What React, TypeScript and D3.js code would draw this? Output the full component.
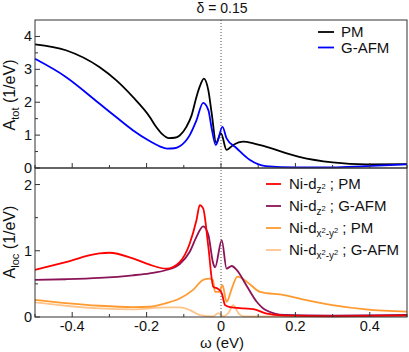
import React, { useEffect, useRef } from 'react';
import * as d3 from 'd3';

// top panel: total spectral function
const totPmW = [-0.5, -0.417, -0.327, -0.282, -0.237, -0.192, -0.175, -0.158, -0.14, -0.125, -0.111, -0.093, -0.079, -0.066, -0.057, -0.046, -0.034, -0.025, -0.013, 0.0, 0.015, 0.033, 0.06, 0.087, 0.12, 0.21, 0.3, 0.39, 0.5];
const totPmA = [3.76, 3.58, 3.07, 2.67, 2.16, 1.56, 1.26, 1.03, 0.91, 0.92, 0.99, 1.25, 1.6, 2.16, 2.48, 2.72, 2.36, 1.66, 0.77, 1.05, 0.55, 0.7, 0.8, 0.75, 0.65, 0.34, 0.17, 0.11, 0.12];
const totAfmW = [-0.5, -0.417, -0.327, -0.282, -0.237, -0.192, -0.165, -0.145, -0.125, -0.111, -0.084, -0.066, -0.048, -0.034, -0.025, -0.014, 0.004, 0.015, 0.042, 0.078, 0.12, 0.2, 0.3, 0.39, 0.5];
const totAfmA = [3.32, 2.77, 1.96, 1.55, 1.15, 0.82, 0.66, 0.59, 0.6, 0.66, 1.0, 1.45, 1.98, 1.76, 1.2, 0.7, 1.25, 0.9, 0.6, 0.24, 0.06, 0.02, 0.02, 0.06, 0.11];

// bottom panel: local orbital spectral functions
const dz2PmW = [-0.5, -0.417, -0.327, -0.3, -0.237, -0.192, -0.147, -0.111, -0.084, -0.066, -0.057, -0.048, -0.034, -0.021, -0.007, 0.002, 0.011, 0.024, 0.06, 0.087, 0.12, 0.17, 0.3, 0.5];
const dz2PmA = [0.71, 0.83, 0.96, 0.97, 0.885, 0.79, 0.73, 0.83, 1.11, 1.46, 1.69, 1.64, 1.06, 0.46, 0.42, 0.36, 0.18, 0.15, 0.13, 0.12, 0.055, 0.02, 0.01, 0.02];
const dz2AfmW = [-0.5, -0.417, -0.327, -0.237, -0.192, -0.147, -0.111, -0.084, -0.066, -0.048, -0.034, -0.021, -0.016, 0.002, 0.015, 0.029, 0.042, 0.07, 0.096, 0.12, 0.17, 0.3, 0.5];
const dz2AfmA = [0.56, 0.57, 0.59, 0.63, 0.66, 0.71, 0.8, 0.985, 1.21, 1.37, 1.24, 0.81, 0.75, 1.16, 0.73, 0.77, 0.71, 0.46, 0.23, 0.105, 0.03, 0.02, 0.03];
const dx2PmW = [-0.5, -0.417, -0.327, -0.237, -0.192, -0.147, -0.111, -0.075, -0.048, -0.03, -0.022, -0.016, -0.005, 0.004, 0.015, 0.029, 0.044, 0.07, 0.105, 0.17, 0.21, 0.3, 0.39, 0.5];
const dx2PmA = [0.26, 0.21, 0.17, 0.15, 0.155, 0.21, 0.28, 0.41, 0.56, 0.58, 0.56, 0.38, 0.38, 0.48, 0.23, 0.43, 0.61, 0.53, 0.38, 0.33, 0.28, 0.18, 0.115, 0.08];
const dx2AfmW = [-0.5, -0.417, -0.327, -0.237, -0.147, -0.111, -0.084, -0.057, -0.021, -0.007, 0.005, 0.02, 0.033, 0.047, 0.06, 0.2, 0.5];
const dx2AfmA = [0.22, 0.17, 0.13, 0.115, 0.145, 0.145, 0.105, 0.03, 0.01, 0.06, 0.01, 0.06, 0.18, 0.055, 0.01, 0.01, 0.02];

const xMajor = [-0.4, -0.2, 0, 0.2, 0.4];
const xMinor = [-0.5, -0.3, -0.1, 0.1, 0.3, 0.5];
const topMajor = [0, 1, 2, 3, 4];
const topMinor = [0.5, 1.5, 2.5, 3.5];
const botMajor = [0, 1, 2];
const botMinor = [0.5, 1.5];

const FONT = '"Liberation Sans", Arial, Helvetica, sans-serif';

const App = () => {
  const svgRef = useRef<SVGSVGElement>(null);

  useEffect(() => {
    document.body.style.margin = '0';
    const svg = d3.select(svgRef.current);
    svg.selectAll('*').remove();

    const left = 35, right = 407, top = 20, mid = 168, bottom = 317;

    const x = d3.scaleLinear().domain([-0.5, 0.5]).range([left, right]);
    const yTop = d3.scaleLinear().domain([0, 4.5]).range([mid, top]);
    const yBot = d3.scaleLinear().domain([0, 2.25]).range([bottom, mid]);

    const drawLine = (ws: number[], as: number[], y: d3.ScaleLinear<number, number>, color: string) => {
      const pts = ws.map((w, i) => [w, as[i]] as [number, number]);
      const line = d3.line<[number, number]>()
        .x(d => x(d[0]))
        .y(d => y(d[1]))
        .curve(d3.curveMonotoneX);
      svg.append('path')
        .datum(pts)
        .attr('fill', 'none')
        .attr('stroke', color)
        .attr('stroke-width', 1.8)
        .attr('stroke-linejoin', 'round')
        .attr('d', line);
    };

    // Fermi level
    svg.append('line')
      .attr('x1', x(0)).attr('x2', x(0))
      .attr('y1', top).attr('y2', bottom)
      .attr('stroke', '#555')
      .attr('stroke-width', 1)
      .attr('stroke-dasharray', '1,2');

    drawLine(totPmW, totPmA, yTop, '#000000');
    drawLine(totAfmW, totAfmA, yTop, '#0000ff');
    drawLine(dx2AfmW, dx2AfmA, yBot, '#ffc48a');
    drawLine(dx2PmW, dx2PmA, yBot, '#ff9a30');
    drawLine(dz2AfmW, dz2AfmA, yBot, '#8b1458');
    drawLine(dz2PmW, dz2PmA, yBot, '#ff0000');

    // frames
    const frame = svg.append('g').attr('fill', 'none').attr('stroke', '#333').attr('stroke-width', 1);
    frame.append('rect').attr('x', left).attr('y', top).attr('width', right - left).attr('height', mid - top);
    frame.append('rect').attr('x', left).attr('y', mid).attr('width', right - left).attr('height', bottom - mid);

    // ticks
    const ticks = svg.append('g').attr('stroke', '#333').attr('stroke-width', 1);
    [mid, bottom].forEach(yb => {
      xMajor.forEach(t => ticks.append('line').attr('x1', x(t)).attr('x2', x(t)).attr('y1', yb).attr('y2', yb - 5));
      xMinor.forEach(t => ticks.append('line').attr('x1', x(t)).attr('x2', x(t)).attr('y1', yb).attr('y2', yb - 3));
    });
    topMajor.forEach(t => ticks.append('line').attr('x1', left).attr('x2', left + 5).attr('y1', yTop(t)).attr('y2', yTop(t)));
    topMinor.forEach(t => ticks.append('line').attr('x1', left).attr('x2', left + 3).attr('y1', yTop(t)).attr('y2', yTop(t)));
    botMajor.forEach(t => ticks.append('line').attr('x1', left).attr('x2', left + 5).attr('y1', yBot(t)).attr('y2', yBot(t)));
    botMinor.forEach(t => ticks.append('line').attr('x1', left).attr('x2', left + 3).attr('y1', yBot(t)).attr('y2', yBot(t)));

    const txt = svg.append('g').style('font-family', FONT).attr('fill', '#111');

    xMajor.forEach(t => txt.append('text')
      .attr('x', x(t)).attr('y', 331)
      .attr('text-anchor', 'middle')
      .style('font-size', '14.5px')
      .text(t === 0 ? '0' : d3.format('.1f')(t).replace('−', '-')));
    topMajor.forEach(t => txt.append('text')
      .attr('x', 32).attr('y', yTop(t) + 5)
      .attr('text-anchor', 'end')
      .style('font-size', '14.5px')
      .text(String(t)));
    botMajor.forEach(t => txt.append('text')
      .attr('x', 32).attr('y', yBot(t) + 5)
      .attr('text-anchor', 'end')
      .style('font-size', '14.5px')
      .text(String(t)));

    // title and axis labels
    txt.append('text').attr('x', 222).attr('y', 13).attr('text-anchor', 'middle')
      .style('font-size', '14px').text('δ = 0.15');
    txt.append('text').attr('x', 222).attr('y', 348).attr('text-anchor', 'middle')
      .style('font-size', '15px').text('ω (eV)');

    const yLabel = (cy: number, sub: string) => {
      const t = txt.append('text')
        .attr('transform', `translate(15,${cy}) rotate(-90)`)
        .attr('text-anchor', 'middle')
        .style('font-size', '16px');
      t.append('tspan').text('A');
      t.append('tspan').attr('dy', 4).style('font-size', '11px').text(sub);
      t.append('tspan').attr('dy', -4).text(' (1/eV)');
    };
    yLabel(95, 'tot');
    yLabel(242, 'loc');

    // top legend
    const topLegend = [
      { label: 'PM', color: '#000000' },
      { label: 'G-AFM', color: '#0000ff' },
    ];
    topLegend.forEach((d, i) => {
      const ly = 32 + i * 15.5;
      svg.append('line').attr('x1', 318).attr('x2', 334).attr('y1', ly).attr('y2', ly)
        .attr('stroke', d.color).attr('stroke-width', 1.8);
      txt.append('text').attr('x', 341).attr('y', ly + 5).style('font-size', '15px').text(d.label);
    });

    // bottom legend
    const botLegend = [
      { orb: 'z', mag: 'PM', color: '#ff0000' },
      { orb: 'z', mag: 'G-AFM', color: '#8b1458' },
      { orb: 'x', mag: 'PM', color: '#ff9a30' },
      { orb: 'x', mag: 'G-AFM', color: '#ffc48a' },
    ];
    botLegend.forEach((d, i) => {
      const ly = 184 + i * 22;
      svg.append('line').attr('x1', 266).attr('x2', 281).attr('y1', ly).attr('y2', ly)
        .attr('stroke', d.color).attr('stroke-width', 1.8);
      const t = txt.append('text').attr('x', 289).attr('y', ly + 5).style('font-size', '15px');
      t.append('tspan').text('Ni-d');
      if (d.orb === 'z') {
        t.append('tspan').attr('dy', 4).style('font-size', '10px').text('z');
        t.append('tspan').attr('dy', -4).style('font-size', '7.5px').text('2');
        t.append('tspan').attr('dy', 0).text(' ; ' + d.mag);
      } else {
        t.append('tspan').attr('dy', 4).style('font-size', '10px').text('x');
        t.append('tspan').attr('dy', -4).style('font-size', '7.5px').text('2');
        t.append('tspan').attr('dy', 4).style('font-size', '10px').text('-y');
        t.append('tspan').attr('dy', -4).style('font-size', '7.5px').text('2');
        t.append('tspan').attr('dy', 0).text(' ; ' + d.mag);
      }
    });
  }, []);

  return <svg ref={svgRef} width={409} height={352} style={{ display: 'block', background: '#fff' }} />;
};

export default App;
